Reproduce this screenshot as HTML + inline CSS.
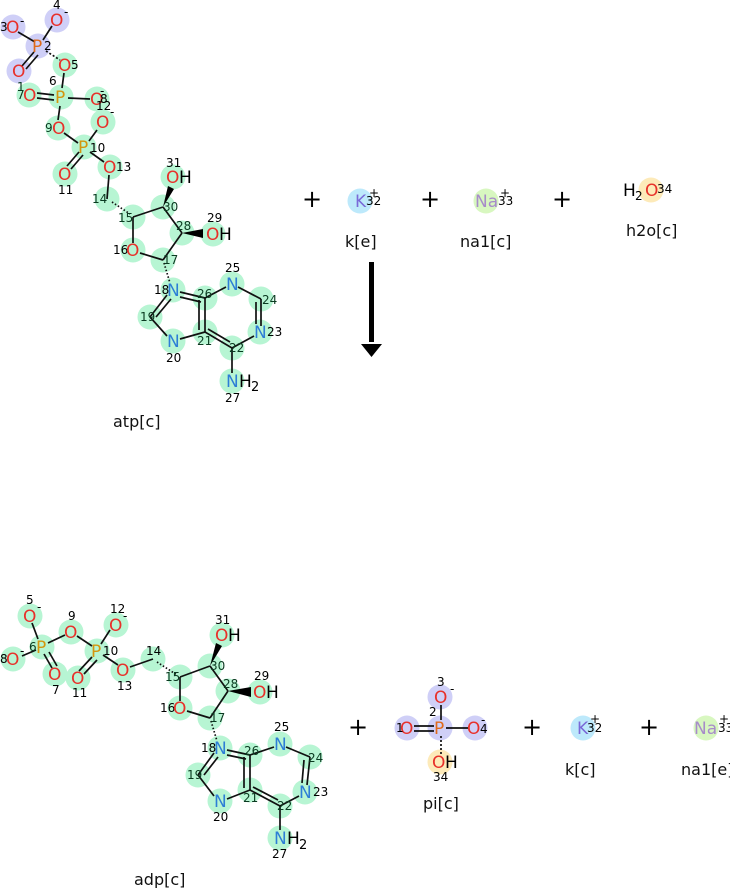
<!DOCTYPE html>
<html><head><meta charset="utf-8"><style>
html,body{margin:0;padding:0;background:#fff;}
svg{display:block;font-family:"DejaVu Sans","Liberation Sans",sans-serif;}
.g{fill:#b7f5d3}.l{fill:#cfcff7}.b{fill:#bde9fb}.y{fill:#fdeab9}.n{fill:#d8f7c0}
.o{fill:#e8302a;font-size:17px}.nn{fill:#2d7ed6;font-size:17px}.p{fill:#d4960e;font-size:17px}.k{font-size:17px}
.s{font-size:12px;fill:#000}.c{font-size:12px;fill:#0a3a20}
line{stroke:#111;stroke-width:1.7}
.lab{font-size:16px;fill:#111}
.pl{font-size:24px}
</style></head><body>
<svg width="730" height="888" viewBox="0 0 730 888">
<g class="l"><circle cx="13" cy="27" r="12.5"/><circle cx="57" cy="20" r="12.5"/><circle cx="38" cy="46" r="12.5"/><circle cx="19" cy="71" r="12.5"/></g>
<g class="g">
<circle cx="65" cy="65" r="12.5"/><circle cx="61" cy="97" r="12.5"/><circle cx="29" cy="95" r="12.5"/><circle cx="97" cy="99" r="12.5"/><circle cx="103" cy="122" r="12.5"/><circle cx="58" cy="128" r="12.5"/><circle cx="84" cy="147" r="12.5"/><circle cx="110" cy="167" r="12.5"/><circle cx="65" cy="174" r="12.5"/><circle cx="107" cy="199" r="12.5"/><circle cx="133" cy="217" r="12.5"/><circle cx="163" cy="207" r="12.5"/><circle cx="182" cy="233" r="12.5"/><circle cx="133" cy="250" r="12.5"/><circle cx="163" cy="260" r="12.5"/><circle cx="173" cy="177" r="12.5"/><circle cx="213" cy="234" r="12.5"/><circle cx="173" cy="290" r="12.5"/><circle cx="205" cy="298" r="12.5"/><circle cx="232" cy="284" r="12.5"/><circle cx="261" cy="299" r="12.5"/><circle cx="260" cy="332" r="12.5"/><circle cx="232" cy="348" r="12.5"/><circle cx="205" cy="332" r="12.5"/><circle cx="173" cy="341" r="12.5"/><circle cx="150" cy="317" r="12.5"/><circle cx="232" cy="381" r="12.5"/>
</g>
<line x1="18" y1="32" x2="35" y2="42"/><line x1="52" y1="26" x2="43" y2="40"/>
<line x1="34" y1="52" x2="22" y2="66"/><line x1="38" y1="55" x2="26" y2="69"/>
<line x1="46" y1="51" x2="60" y2="60" stroke-dasharray="2,2" stroke-width="3"/>
<line x1="64" y1="73" x2="62" y2="88"/>
<line x1="37" y1="93" x2="54" y2="95"/><line x1="37" y1="98" x2="54" y2="100"/>
<line x1="68" y1="98" x2="90" y2="99"/><line x1="60" y1="106" x2="58" y2="120"/>
<line x1="64" y1="133" x2="78" y2="143"/><line x1="97" y1="130" x2="89" y2="141"/>
<line x1="79" y1="152" x2="67" y2="166"/><line x1="83" y1="155" x2="71" y2="169"/>
<line x1="90" y1="152" x2="104" y2="162"/><line x1="109" y1="175" x2="107" y2="199"/>
<line x1="112" y1="202" x2="130" y2="214" stroke-dasharray="1.5,2" stroke-width="5"/>
<line x1="133" y1="217" x2="163" y2="207"/><line x1="163" y1="207" x2="182" y2="233"/>
<line x1="133" y1="217" x2="133" y2="243"/><line x1="140" y1="253" x2="163" y2="260"/><line x1="163" y1="260" x2="182" y2="233"/>
<polygon points="163,207 168,186 174,189"/><polygon points="182,233 203,229 203,238"/>
<line x1="164" y1="263" x2="170" y2="283" stroke-dasharray="1.5,2" stroke-width="5"/>
<line x1="180" y1="292" x2="205" y2="298"/><line x1="180" y1="297" x2="201" y2="302"/>
<line x1="205" y1="298" x2="226" y2="287"/><line x1="238" y1="287" x2="261" y2="299"/>
<line x1="261" y1="299" x2="261" y2="326"/><line x1="256" y1="302" x2="256" y2="324"/>
<line x1="254" y1="336" x2="232" y2="348"/><line x1="232" y1="348" x2="205" y2="332"/><line x1="230" y1="342" x2="208" y2="329"/>
<line x1="205" y1="298" x2="205" y2="332"/><line x1="199" y1="300" x2="199" y2="330"/>
<line x1="205" y1="332" x2="180" y2="339"/><line x1="167" y1="336" x2="150" y2="317"/><line x1="167" y1="295" x2="150" y2="317"/><line x1="171" y1="299" x2="156" y2="317"/>
<line x1="232" y1="348" x2="232" y2="373"/>
<text x="6" y="33" class="o">O</text><text x="0" y="31" class="s">3</text><text x="20" y="25" class="s">-</text>
<text x="50" y="26" class="o">O</text><text x="53" y="9" class="s">4</text><text x="64" y="16" class="s">-</text>
<text x="32" y="52" class="p" style="fill:#e06a1a">P</text><text x="44" y="50" class="s">2</text>
<text x="12" y="77" class="o">O</text>
<text x="58" y="71" class="o">O</text><text x="71" y="69" class="s">5</text>
<text x="55" y="103" class="p">P</text><text x="49" y="85" class="s">6</text>
<text x="23" y="101" class="o">O</text><text x="17" y="91" class="c">1</text><text x="17" y="99" class="c">7</text>
<text x="90" y="105" class="o">O</text><text x="100" y="103" class="s">8</text><text x="100" y="95" class="s">-</text>
<text x="96" y="128" class="o">O</text><text x="96" y="110" class="s">12</text><text x="110" y="116" class="s">-</text>
<text x="52" y="134" class="o">O</text><text x="45" y="132" class="c">9</text>
<text x="78" y="153" class="p">P</text><text x="90" y="152" class="s">10</text>
<text x="103" y="173" class="o">O</text><text x="116" y="171" class="s">13</text>
<text x="58" y="180" class="o">O</text><text x="58" y="194" class="s">11</text>
<text x="92" y="203" class="c">14</text><text x="118" y="222" class="c">15</text><text x="163" y="211" class="c">30</text><text x="176" y="230" class="c">28</text>
<text x="113" y="254" class="s">16</text><text x="126" y="256" class="o">O</text><text x="163" y="264" class="c">17</text>
<text x="166" y="167" class="s">31</text><text x="166" y="183" class="o">O</text><text x="179" y="183" class="k">H</text>
<text x="207" y="222" class="s">29</text><text x="206" y="240" class="o">O</text><text x="219" y="240" class="k">H</text>
<text x="154" y="294" class="s">18</text><text x="167" y="296" class="nn">N</text><text x="197" y="298" class="c">26</text>
<text x="226" y="290" class="nn">N</text><text x="225" y="272" class="s">25</text><text x="262" y="304" class="c">24</text>
<text x="254" y="338" class="nn">N</text><text x="267" y="336" class="s">23</text>
<text x="229" y="352" class="c">22</text><text x="197" y="345" class="c">21</text>
<text x="167" y="347" class="nn">N</text><text x="166" y="362" class="s">20</text><text x="140" y="321" class="c">19</text>
<text x="226" y="387" class="nn">N</text><text x="239" y="387" class="k">H</text><text x="251" y="391" style="font-size:13px">2</text><text x="225" y="402" class="s">27</text>
<text x="113" y="427" class="lab">atp[c]</text>

<text x="302" y="207" class="pl">+</text>
<circle cx="360" cy="201" r="12.5" class="b"/><text x="355" y="207" class="k" style="fill:#7a6ad8">K</text><text x="366" y="205" class="s">32</text><text x="369" y="197" class="s">+</text>
<text x="345" y="247" class="lab">k[e]</text>
<text x="420" y="207" class="pl">+</text>
<circle cx="486" cy="201" r="12.5" class="n"/><text x="475" y="207" class="k" style="fill:#a78cc9">Na</text><text x="498" y="205" class="s">33</text><text x="500" y="197" class="s">+</text>
<text x="460" y="247" class="lab">na1[c]</text>
<text x="552" y="207" class="pl">+</text>
<circle cx="651" cy="190" r="12.5" class="y"/><text x="623" y="196" class="k">H</text><text x="635" y="200" style="font-size:12px">2</text><text x="645" y="196" class="o">O</text><text x="657" y="193" class="s">34</text>
<text x="626" y="236" class="lab">h2o[c]</text>
<rect x="369" y="262" width="5" height="80" fill="#000"/><polygon points="361,344 382,344 371.5,357" fill="#000"/>

<g class="g">
<circle cx="30" cy="616" r="12.5"/><circle cx="42" cy="647" r="12.5"/><circle cx="13" cy="659" r="12.5"/><circle cx="55" cy="674" r="12.5"/><circle cx="71" cy="632" r="12.5"/><circle cx="97" cy="651" r="12.5"/><circle cx="116" cy="625" r="12.5"/><circle cx="78" cy="678" r="12.5"/><circle cx="123" cy="670" r="12.5"/><circle cx="153" cy="659" r="12.5"/><circle cx="180" cy="677" r="12.5"/><circle cx="210" cy="666" r="12.5"/><circle cx="228" cy="691" r="12.5"/><circle cx="180" cy="708" r="12.5"/><circle cx="210" cy="718" r="12.5"/><circle cx="222" cy="635" r="12.5"/><circle cx="260" cy="692" r="12.5"/><circle cx="220" cy="748" r="12.5"/><circle cx="250" cy="755" r="12.5"/><circle cx="280" cy="744" r="12.5"/><circle cx="310" cy="757" r="12.5"/><circle cx="305" cy="792" r="12.5"/><circle cx="280" cy="806" r="12.5"/><circle cx="250" cy="790" r="12.5"/><circle cx="220" cy="801" r="12.5"/><circle cx="198" cy="775" r="12.5"/><circle cx="280" cy="838" r="12.5"/>
</g>
<line x1="32" y1="623" x2="38" y2="639"/><line x1="22" y1="656" x2="36" y2="650"/>
<line x1="44" y1="654" x2="52" y2="668"/><line x1="49" y1="652" x2="57" y2="666"/>
<line x1="48" y1="643" x2="65" y2="635"/><line x1="77" y1="636" x2="92" y2="646"/>
<line x1="110" y1="630" x2="101" y2="644"/><line x1="92" y1="657" x2="79" y2="671"/><line x1="97" y1="660" x2="84" y2="674"/>
<line x1="103" y1="655" x2="118" y2="665"/><line x1="130" y1="667" x2="153" y2="659"/>
<line x1="157" y1="662" x2="177" y2="675" stroke-dasharray="1.5,2" stroke-width="5"/>
<line x1="180" y1="677" x2="210" y2="666"/><line x1="210" y1="666" x2="228" y2="691"/><line x1="180" y1="677" x2="180" y2="701"/><line x1="187" y1="711" x2="210" y2="718"/><line x1="210" y1="718" x2="228" y2="691"/>
<polygon points="210,666 216,643 222,646"/><polygon points="228,691 251,687 251,697"/>
<line x1="211" y1="721" x2="217" y2="741" stroke-dasharray="1.5,2" stroke-width="5"/>
<line x1="227" y1="750" x2="250" y2="755"/><line x1="227" y1="755" x2="246" y2="759"/>
<line x1="250" y1="755" x2="274" y2="747"/><line x1="286" y1="747" x2="310" y2="757"/>
<line x1="310" y1="757" x2="307" y2="785"/><line x1="304" y1="760" x2="302" y2="783"/>
<line x1="299" y1="796" x2="280" y2="806"/><line x1="280" y1="806" x2="250" y2="790"/><line x1="278" y1="800" x2="253" y2="787"/>
<line x1="250" y1="755" x2="250" y2="790"/><line x1="244" y1="757" x2="244" y2="788"/>
<line x1="250" y1="790" x2="227" y2="799"/><line x1="214" y1="796" x2="198" y2="775"/><line x1="214" y1="753" x2="198" y2="775"/><line x1="218" y1="757" x2="204" y2="775"/>
<line x1="280" y1="806" x2="280" y2="830"/>
<text x="23" y="622" class="o">O</text><text x="26" y="604" class="s">5</text><text x="37" y="611" class="s">-</text>
<text x="36" y="653" class="p">P</text><text x="29" y="651" class="c">6</text>
<text x="6" y="665" class="o">O</text><text x="0" y="663" class="s">8</text><text x="20" y="655" class="s">-</text>
<text x="48" y="680" class="o">O</text><text x="52" y="694" class="s">7</text>
<text x="64" y="638" class="o">O</text><text x="68" y="620" class="s">9</text>
<text x="91" y="657" class="p">P</text><text x="103" y="655" class="s">10</text>
<text x="109" y="631" class="o">O</text><text x="110" y="613" class="s">12</text><text x="123" y="620" class="s">-</text>
<text x="71" y="684" class="o">O</text><text x="72" y="697" class="s">11</text>
<text x="116" y="676" class="o">O</text><text x="117" y="690" class="s">13</text>
<text x="146" y="655" class="s">14</text><text x="165" y="681" class="c">15</text><text x="210" y="670" class="c">30</text><text x="223" y="688" class="c">28</text>
<text x="160" y="712" class="s">16</text><text x="173" y="714" class="o">O</text><text x="210" y="722" class="c">17</text>
<text x="215" y="624" class="s">31</text><text x="215" y="641" class="o">O</text><text x="228" y="641" class="k">H</text>
<text x="254" y="680" class="s">29</text><text x="253" y="698" class="o">O</text><text x="266" y="698" class="k">H</text>
<text x="201" y="752" class="s">18</text><text x="214" y="754" class="nn">N</text><text x="244" y="755" class="c">26</text>
<text x="274" y="750" class="nn">N</text><text x="274" y="731" class="s">25</text><text x="308" y="762" class="c">24</text>
<text x="299" y="798" class="nn">N</text><text x="313" y="796" class="s">23</text>
<text x="277" y="810" class="c">22</text><text x="243" y="802" class="c">21</text>
<text x="214" y="807" class="nn">N</text><text x="213" y="821" class="s">20</text><text x="187" y="779" class="c">19</text>
<text x="274" y="844" class="nn">N</text><text x="287" y="844" class="k">H</text><text x="299" y="849" style="font-size:13px">2</text><text x="272" y="858" class="s">27</text>
<text x="134" y="885" class="lab">adp[c]</text>

<text x="348" y="735" class="pl">+</text>
<g class="l"><circle cx="407" cy="728" r="12.5"/><circle cx="440" cy="728" r="12.5"/><circle cx="440" cy="697" r="12.5"/><circle cx="475" cy="728" r="12.5"/></g>
<circle cx="440" cy="762" r="12.5" class="y"/>
<line x1="414" y1="726" x2="434" y2="726"/><line x1="414" y1="731" x2="434" y2="731"/>
<line x1="446" y1="728" x2="468" y2="728"/><line x1="441" y1="705" x2="441" y2="720"/>
<line x1="441" y1="736" x2="441" y2="754" stroke-dasharray="2,2" stroke-width="3"/>
<text x="400" y="734" class="o">O</text><text x="396" y="732" class="s">1</text>
<text x="434" y="734" class="p" style="fill:#e06a1a">P</text><text x="429" y="716" class="s">2</text>
<text x="434" y="703" class="o">O</text><text x="437" y="686" class="s">3</text><text x="450" y="693" class="s">-</text>
<text x="467" y="734" class="o">O</text><text x="480" y="733" class="s">4</text><text x="481" y="724" class="s">-</text>
<text x="432" y="768" class="o">O</text><text x="445" y="768" class="k">H</text><text x="433" y="781" class="s">34</text>
<text x="423" y="809" class="lab">pi[c]</text>
<text x="522" y="735" class="pl">+</text>
<circle cx="583" cy="728" r="12.5" class="b"/><text x="577" y="734" class="k" style="fill:#7a6ad8">K</text><text x="587" y="732" class="s">32</text><text x="590" y="723" class="s">+</text>
<text x="565" y="775" class="lab">k[c]</text>
<text x="639" y="735" class="pl">+</text>
<circle cx="706" cy="728" r="12.5" class="n"/><text x="694" y="734" class="k" style="fill:#a78cc9">Na</text><text x="718" y="732" class="s">33</text><text x="719" y="723" class="s">+</text>
<text x="681" y="775" class="lab">na1[e]</text>
</svg>
</body></html>
